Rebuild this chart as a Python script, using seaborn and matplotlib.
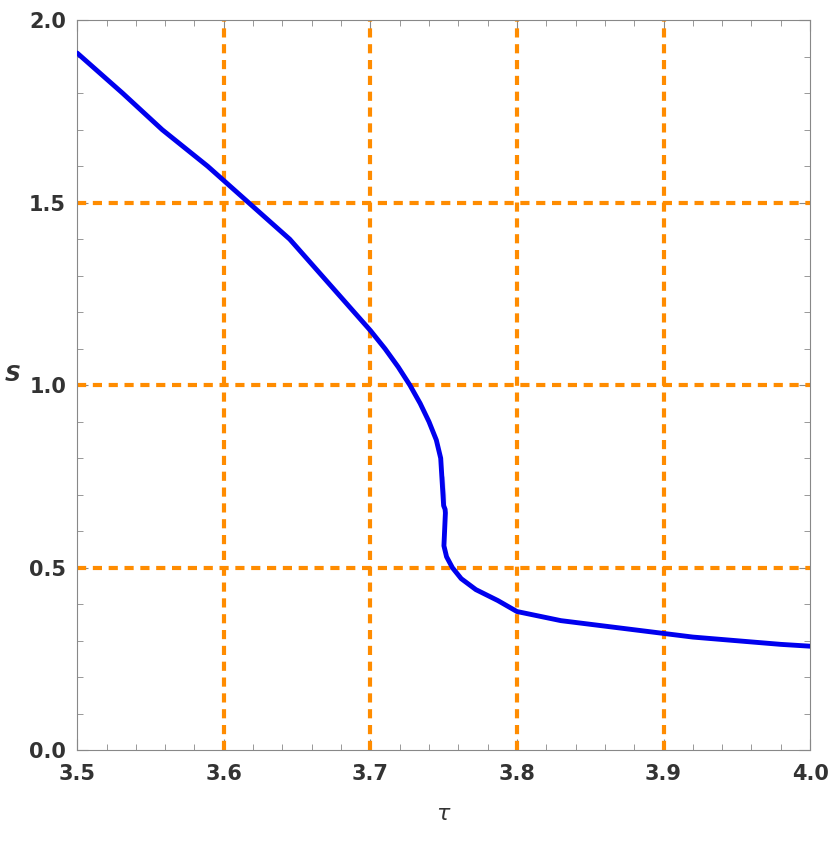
import numpy as np
import pandas as pd
import seaborn as sns
import matplotlib.pyplot as plt
from matplotlib.ticker import MultipleLocator

# curve, ordered along the curve
tau = [3.5, 3.531, 3.558, 3.589, 3.617, 3.645, 3.667, 3.689, 3.700, 3.710, 3.719,
       3.727, 3.734, 3.740, 3.745, 3.748, 3.750, 3.751, 3.7512, 3.751, 3.750,
       3.7502, 3.752, 3.756, 3.762, 3.772, 3.787, 3.80, 3.83, 3.86, 3.89, 3.92,
       3.95, 3.98, 4.0]
S = [1.91, 1.80, 1.70, 1.60, 1.50, 1.40, 1.30, 1.20, 1.15, 1.10, 1.05,
     1.00, 0.95, 0.90, 0.85, 0.80, 0.75, 0.70, 0.65, 0.62, 0.59,
     0.56, 0.53, 0.50, 0.47, 0.44, 0.41, 0.38, 0.355, 0.34, 0.325, 0.31,
     0.30, 0.29, 0.285]
df = pd.DataFrame({'tau': tau, 'S': S})

grid_x = [3.6, 3.7, 3.8, 3.9]
grid_y = [0.5, 1.0, 1.5]

sns.set_style('ticks')
fig, ax = plt.subplots(figsize=(8.3, 8.42), dpi=100)
fig.subplots_adjust(left=0.093, right=0.976, top=0.976, bottom=0.109)

for gx in grid_x:
    ax.axvline(gx, color='#ff8c00', ls=(0, (2.2, 1.6)), lw=3, zorder=1)
for gy in grid_y:
    ax.axhline(gy, color='#ff8c00', ls=(0, (2.2, 1.6)), lw=3, zorder=1)

sns.lineplot(data=df, x='tau', y='S', sort=False, color='#0000ee', lw=3.5, ax=ax,
             zorder=3, solid_joinstyle='round')

ax.set_xlim(3.5, 4.0)
ax.set_ylim(0, 2.0)
ax.xaxis.set_major_locator(MultipleLocator(0.1))
ax.xaxis.set_minor_locator(MultipleLocator(0.02))
ax.yaxis.set_major_locator(MultipleLocator(0.5))
ax.yaxis.set_minor_locator(MultipleLocator(0.1))
ax.tick_params(which='both', direction='in', top=True, right=True, colors='#888888',
               labelcolor='#333333', labelsize=15)
ax.tick_params(which='major', length=8)
ax.tick_params(which='minor', length=4)
ax.tick_params(axis='x', pad=10)
ax.tick_params(axis='y', pad=8)
for lab in ax.get_xticklabels() + ax.get_yticklabels():
    lab.set_fontweight('bold')
for sp in ax.spines.values():
    sp.set_color('#888888')
ax.set_xlabel(r'$\tau$', fontsize=16, color='#333333', labelpad=14)
ax.set_ylabel('S', fontsize=16, color='#333333', rotation=0, labelpad=12,
              fontweight='bold', fontstyle='italic')

plt.savefig('out.png')
